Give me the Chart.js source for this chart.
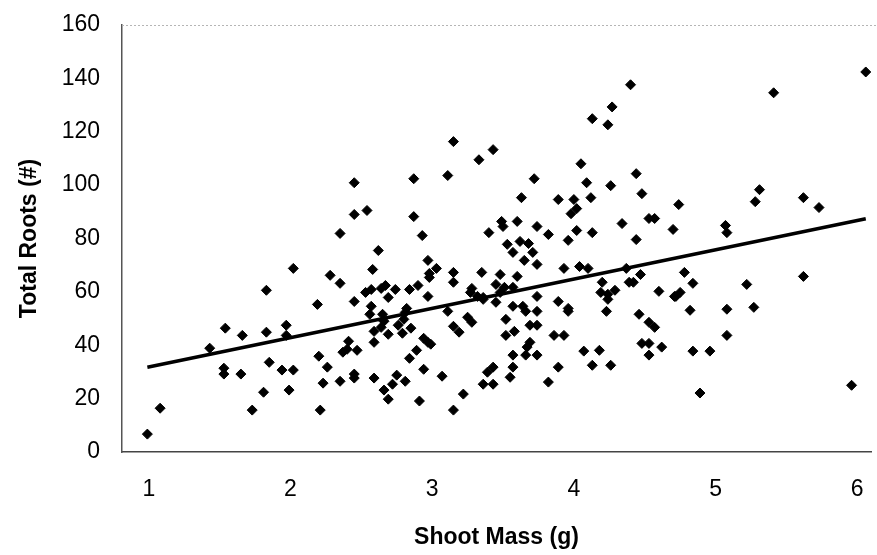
<!DOCTYPE html>
<html>
<head>
<meta charset="utf-8">
<script src="https://cdn.jsdelivr.net/npm/chart.js@4.4.1/dist/chart.umd.min.js"></script>
<style>
  html, body { margin: 0; padding: 0; background: #fff; }
  #wrap { width: 877px; height: 555px; }
</style>
</head>
<body>
<div id="wrap"><canvas id="rootsChart" width="877" height="555"></canvas></div>
<script>
// Shoot mass (g) and total roots (#), one entry per plant
const shootMass = [3.15, 3.33, 3.43, 4.05, 4.13, 4.24, 4.27, 4.40, 5.41, 6.06,
  2.02, 1.83, 2.45, 2.87, 3.11, 2.45, 2.54, 2.87, 2.35, 2.93,
  2.62, 2.58, 2.97, 3.03, 2.28, 2.98, 2.98, 3.15, 3.15, 3.35,
  2.35, 2.53, 2.57, 2.64, 2.67, 2.74, 2.84, 2.90, 2.69, 2.97,
  2.45, 2.57, 2.19, 3.28, 3.27, 3.32, 3.36, 2.82, 3.40, 3.72,
  4.09, 4.26, 4.44, 4.48, 3.63, 3.89, 4.00, 4.12, 4.02, 3.98,
  4.74, 3.49, 3.50, 3.60, 3.74, 3.82, 4.02, 4.13, 3.96, 4.34,
  4.44, 4.53, 4.57, 4.70, 3.53, 3.62, 3.68, 3.57, 3.71, 3.65,
  3.74, 3.93, 4.04, 4.10, 4.37, 4.47, 3.48, 3.60, 3.45, 3.51,
  3.57, 3.48, 3.36, 3.45, 4.20, 4.39, 4.42, 4.19, 4.24, 4.29,
  4.24, 3.74, 3.89, 4.60, 4.71, 3.57, 3.64, 3.96, 5.31, 5.28,
  5.62, 5.73, 5.07, 5.08, 4.78, 4.84, 5.22, 5.62, 4.72, 4.75,
  4.82, 5.08, 5.27, 5.08, 4.84, 4.96, 4.89, 5.96, 0.99, 1.08,
  1.43, 1.54, 1.66, 1.83, 1.97, 1.97, 1.53, 1.53, 1.65, 1.85,
  1.94, 2.02, 1.81, 1.99, 1.73, 2.56, 2.65, 2.66, 2.59, 2.64,
  2.69, 2.81, 2.80, 2.76, 2.79, 2.85, 3.11, 3.15, 3.19, 3.25,
  3.28, 2.59, 2.41, 2.37, 2.40, 2.47, 2.20, 2.26, 2.23, 2.35,
  2.45, 2.45, 2.59, 2.75, 2.72, 2.66, 2.81, 2.69, 2.89, 2.84,
  2.94, 2.97, 2.99, 2.94, 3.07, 2.91, 3.15, 3.22, 2.21, 3.36,
  3.39, 3.66, 3.74, 3.96, 4.23, 4.46, 4.53, 4.57, 3.52, 3.58,
  3.52, 3.69, 3.74, 3.69, 3.67, 3.66, 3.74, 3.57, 3.57, 3.43,
  3.55, 3.43, 3.86, 3.93, 3.89, 3.82, 4.07, 4.18, 4.13, 4.26,
  4.48, 4.53, 4.53, 4.62];

const totalRoots = [116.3, 109.5, 113.3, 108.0, 124.9, 122.6, 129.3, 137.6, 134.6, 142.4,
  68.8, 60.6, 100.9, 102.4, 103.6, 89.0, 90.5, 88.2, 81.9, 81.1,
  75.5, 68.4, 71.8, 68.8, 66.2, 66.9, 65.4, 67.3, 63.6, 67.3,
  63.2, 59.8, 60.9, 61.3, 62.4, 60.9, 60.9, 62.4, 57.9, 58.3,
  56.4, 54.6, 55.3, 61.3, 59.8, 58.3, 57.2, 53.8, 82.2, 102.4,
  100.9, 99.8, 104.3, 96.8, 95.3, 94.6, 94.6, 95.3, 91.2, 89.3,
  92.7, 86.4, 84.5, 86.4, 84.5, 81.5, 83.0, 82.2, 79.3, 85.6,
  79.6, 87.5, 87.5, 83.4, 77.8, 78.9, 78.1, 74.8, 74.8, 71.8,
  70.3, 68.8, 69.5, 68.8, 68.8, 66.5, 66.5, 65.8, 62.8, 61.7,
  61.7, 59.8, 57.9, 56.1, 63.6, 63.6, 63.6, 59.8, 59.1, 60.6,
  57.2, 58.3, 56.4, 60.2, 58.3, 54.6, 54.6, 53.8, 98.3, 93.8,
  95.3, 91.6, 84.9, 82.2, 67.3, 63.2, 62.8, 65.8, 58.3, 59.8,
  53.1, 53.5, 54.2, 43.7, 37.8, 37.8, 22.1, 25.0, 6.7, 16.4,
  38.9, 46.4, 43.7, 44.9, 47.5, 43.7, 31.4, 29.2, 29.2, 33.6,
  30.7, 30.7, 22.4, 23.2, 15.7, 51.6, 51.6, 49.0, 45.2, 46.7,
  44.1, 52.3, 49.7, 47.5, 44.5, 46.4, 52.7, 47.1, 44.9, 50.5,
  48.6, 41.1, 41.5, 37.4, 38.5, 38.1, 35.9, 31.8, 25.8, 26.5,
  29.2, 27.7, 27.7, 28.8, 25.4, 23.2, 26.5, 19.8, 38.1, 35.1,
  42.6, 41.1, 40.4, 31.0, 28.4, 19.1, 15.7, 21.7, 15.7, 25.4,
  29.9, 52.7, 52.7, 52.7, 52.7, 51.6, 48.6, 46.7, 49.7, 45.2,
  43.7, 47.5, 47.5, 41.1, 39.3, 36.3, 36.3, 36.3, 31.8, 31.8,
  28.0, 25.4, 43.7, 43.7, 31.8, 26.2, 37.8, 38.1, 32.5, 32.5,
  40.7, 40.7, 36.3, 39.3];

const xTicks = [1, 2, 3, 4, 5, 6];
const yTicks = [0, 20, 40, 60, 80, 100, 120, 140, 160];

document.addEventListener('DOMContentLoaded', function() {
  const points = shootMass.map((x, i) => ({ x: x, y: totalRoots[i] }));

  // Least-squares trend line over the data range
  const n = points.length;
  const mx = shootMass.reduce((a, b) => a + b, 0) / n;
  const my = totalRoots.reduce((a, b) => a + b, 0) / n;
  let sxy = 0, sxx = 0;
  points.forEach(p => { sxy += (p.x - mx) * (p.y - my); sxx += (p.x - mx) * (p.x - mx); });
  const slope = sxy / sxx;
  const icpt = my - slope * mx;
  const xLo = Math.min(...shootMass), xHi = Math.max(...shootMass);
  const trend = [{ x: xLo, y: icpt + slope * xLo }, { x: xHi, y: icpt + slope * xHi }];

  // Dotted top edge of the plot area, running out to the canvas edge
  const plotFrame = {
    id: 'plotFrame',
    afterDraw(chart) {
      const a = chart.chartArea, ctx = chart.ctx;
      ctx.save();
      ctx.strokeStyle = '#b5b5b5';
      ctx.lineWidth = 1;
      ctx.setLineDash([2, 2]);
      ctx.beginPath();
      ctx.moveTo(a.left, a.top + 0.5);
      ctx.lineTo(chart.width, a.top + 0.5);
      ctx.stroke();
      ctx.restore();
    }
  };

  const tickFont = { family: "'Liberation Sans', Arial, sans-serif", size: 23 };
  const titleFont = { family: "'Liberation Sans', Arial, sans-serif", size: 23, weight: 'bold' };

  new Chart(document.getElementById('rootsChart'), {
    type: 'scatter',
    data: {
      datasets: [{
        label: 'Total Roots',
        data: points,
        pointStyle: 'rectRot',
        pointRadius: 5,
        pointBackgroundColor: '#000',
        pointBorderColor: '#000',
        pointBorderWidth: 1,
        showLine: false,
        order: 2
      }, {
        type: 'line',
        label: 'Trend',
        data: trend,
        borderColor: '#000',
        borderWidth: 3.5,
        pointRadius: 0,
        fill: false,
        clip: false,
        order: 1
      }]
    },
    options: {
      responsive: false,
      animation: false,
      devicePixelRatio: 1,
      layout: { padding: { top: 25, right: 0, left: 0, bottom: 0 } },
      plugins: {
        legend: { display: false },
        tooltip: { enabled: false }
      },
      scales: {
        x: {
          type: 'linear',
          min: 0.811,
          max: 6.097,
          afterBuildTicks: axis => { axis.ticks = xTicks.map(v => ({ value: v })); },
          afterFit: axis => { axis.height = 103; axis.paddingLeft = 0; axis.paddingRight = 0; },
          grid: { display: false },
          border: { display: true, color: '#444', width: 1.5 },
          ticks: { color: '#000', font: tickFont, padding: 16, maxRotation: 0 },
          title: { display: true, text: 'Shoot Mass (g)', color: '#000', font: titleFont, padding: { top: 0, bottom: 4 } }
        },
        y: {
          min: 0,
          max: 160,
          afterBuildTicks: axis => { axis.ticks = yTicks.map(v => ({ value: v })); },
          afterFit: axis => { axis.width = 122; axis.paddingTop = 0; axis.paddingBottom = 0; },
          grid: { display: false },
          border: { display: true, color: '#555', width: 1.5 },
          ticks: { color: '#000', font: tickFont, padding: 14 },
          title: { display: true, text: 'Total Roots (#)', color: '#000', font: titleFont, padding: { top: 16, bottom: 0 } }
        }
      }
    },
    plugins: [plotFrame]
  });
});
</script>
</body>
</html>
